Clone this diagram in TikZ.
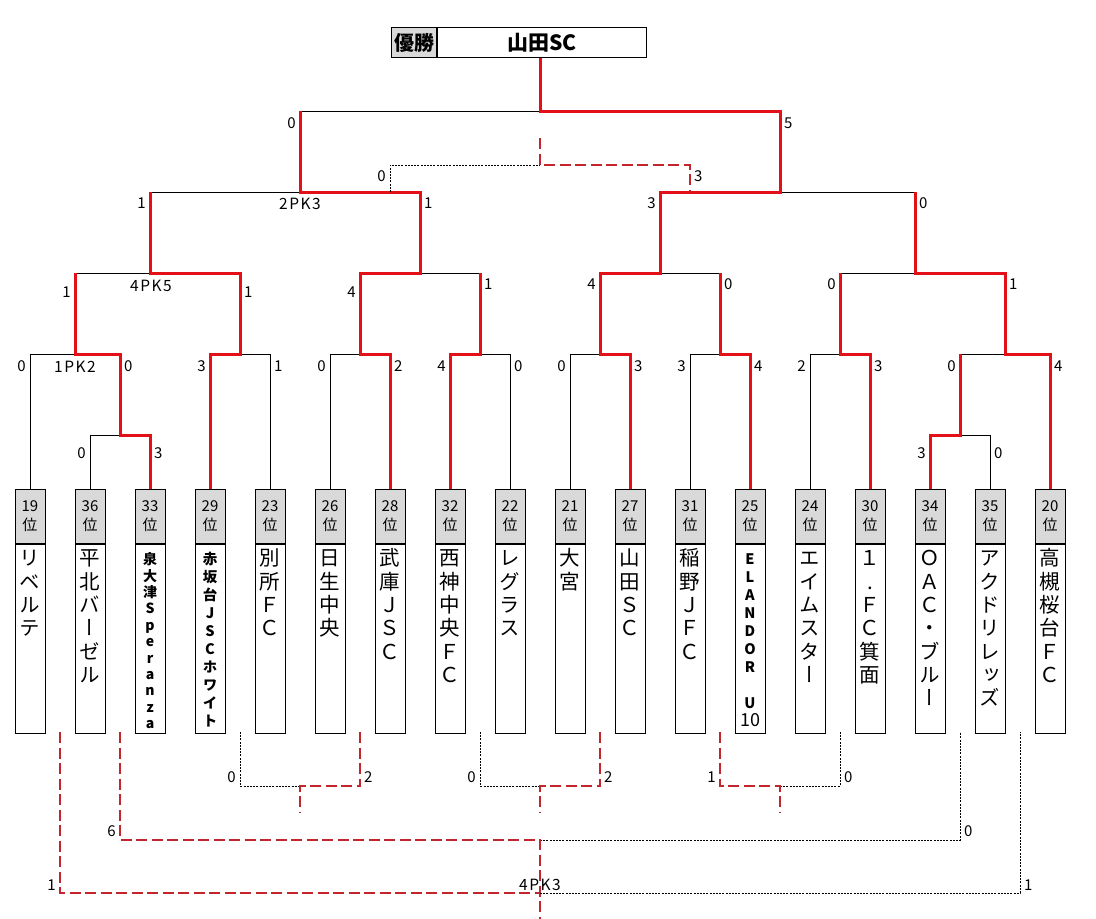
\documentclass[tikz,border=0pt]{standalone}
\usepackage{fontspec}
\setmainfont{Noto Sans CJK JP}
\newfontfamily\vf{Noto Sans CJK JP}[RawFeature=+vert]
\usetikzlibrary{calc}
\definecolor{redc}{RGB}{228,16,24}
\definecolor{dredc}{RGB}{192,38,44}
\definecolor{hgray}{RGB}{217,217,217}
\tikzset{
  hdr/.style={anchor=north, draw, fill=hgray, line width=1pt, minimum width=30pt, minimum height=54pt, inner sep=0pt, align=center, font=\fontsize{15}{19}\selectfont},
  bodybox/.style={anchor=north, draw, line width=1pt, minimum width=30pt, minimum height=189pt, inner sep=0pt},
  nmn/.style={anchor=north, inner sep=0pt, align=center, font=\vf\fontsize{20.5}{23.3}\selectfont, yshift=-2.6pt},
  nms/.style={anchor=north, inner sep=0pt, align=center, font=\vf\bfseries\fontsize{14}{16.4}\selectfont, yshift=-1.5pt},
  nmt/.style={anchor=north, inner sep=0pt, align=center, font=\vf\bfseries\fontsize{14.5}{17.9}\selectfont, yshift=-1.7pt},
  winline/.style={draw=redc, line width=3pt},
  loseline/.style={draw=black, line width=1pt},
  windash/.style={draw=dredc, line width=2.6pt, dash pattern=on 11pt off 4.5pt},
  losedot/.style={draw=black, line width=0.9pt, dash pattern=on 2pt off 1.2pt},
  sc/.style={inner sep=0pt, font=\fontsize{15}{15}\selectfont},
  pk/.style={inner sep=0pt, font=\fontsize{15.5}{15}\selectfont\addfontfeature{LetterSpace=10}},
}
\newcommand\Ls[3]{\node[sc,anchor=east] (sl-#1-#2) at (#1-4,#2) {#3};}
\newcommand\Rs[3]{\node[sc,anchor=west] (sr-#1-#2) at (#1+4,#2) {#3};}
\begin{document}
\begin{tikzpicture}[x=1pt,y=-1pt]
\useasboundingbox (0,0) rectangle (1096,919);
\fill[white] (0,0) rectangle (1096,919);

% champion box
\node[draw, fill=hgray, line width=1pt, minimum width=45pt, minimum height=30pt, anchor=north west, inner sep=0pt, font=\bfseries\fontsize{20}{20}\selectfont] (yu) at (391,27) {優勝};
\node[draw, line width=1pt, minimum width=209pt, minimum height=30pt, anchor=north west, inner sep=0pt, font=\bfseries\fontsize{21}{21}\selectfont] (champ) at (yu.north east) {山田SC};

% team boxes
\foreach \ii/\rk/\nm/\st in {
 0/19/{リ\\ベ\\ル\\テ}/n,
 1/36/{平\\北\\バ\\ー\\ゼ\\ル}/n,
 2/33/{泉\\大\\津\\S\\p\\e\\r\\a\\n\\z\\a}/s,
 3/29/{赤\\坂\\台\\J\\S\\C\\ホ\\ワ\\イ\\ト}/t,
 4/23/{別\\所\\Ｆ\\Ｃ}/n,
 5/26/{日\\生\\中\\央}/n,
 6/28/{武\\庫\\Ｊ\\Ｓ\\Ｃ}/n,
 7/32/{西\\神\\中\\央\\Ｆ\\Ｃ}/n,
 8/22/{レ\\グ\\ラ\\ス}/n,
 9/21/{大\\宮}/n,
 10/27/{山\\田\\Ｓ\\Ｃ}/n,
 11/31/{稲\\野\\Ｊ\\Ｆ\\Ｃ}/n,
 12/25/{E\\L\\A\\N\\D\\O\\R\\\mbox{}\\U\\{\mdseries\fontsize{18}{18}\selectfont 10}}/t,
 13/24/{エ\\イ\\ム\\ス\\タ\\ー}/n,
 14/30/{１\\.\\Ｆ\\Ｃ\\箕\\面}/n,
 15/34/{Ｏ\\Ａ\\Ｃ\\・\\ブ\\ル\\ー}/n,
 16/35/{ア\\ク\\ド\\リ\\レ\\ッ\\ズ}/n,
 17/20/{高\\槻\\桜\\台\\Ｆ\\Ｃ}/n}{
  \node[hdr] (h\ii) at ({30+60*\ii},489) {\rk\\位};
  \node[bodybox] (b\ii) at (h\ii.south) {};
  \node[nm\st] (n\ii) at (b\ii.north) {\rule{0pt}{19pt}\nm};
}

% junction coordinates
\coordinate (p1) at (120,435); \coordinate (p2) at (960,435);
\coordinate (m1) at (75,354);  \coordinate (m2) at (240,354);
\coordinate (m3) at (360,354); \coordinate (m4) at (480,354);
\coordinate (m5) at (600,354); \coordinate (m6) at (720,354);
\coordinate (m7) at (840,354); \coordinate (m8) at (1005,354);
\coordinate (q1) at (150,273); \coordinate (q2) at (420,273);
\coordinate (q3) at (660,273); \coordinate (q4) at (915,273);
\coordinate (s1) at (300,192); \coordinate (s2) at (780,192);
\coordinate (f) at (540,111);
\coordinate (tl) at (390,192); \coordinate (tr) at (690,192);
\coordinate (t3) at (540,165); \coordinate (t3top) at (540,138);

% losing (black) lines
\draw[loseline] (h1.north) |- (p1);
\draw[loseline] (h0.north) |- (m1);
\draw[loseline] (m1 |- q1) -- (q1);
\draw[loseline] (h4.north) |- (m2);
\draw[loseline] (q1 |- s1) -- (s1);
\draw[loseline] (h5.north) |- (m3);
\draw[loseline] (m4) -| (h8.north);
\draw[loseline] (q2) -- (m4 |- q2);
\draw[loseline] (s1 |- f) -- (f);
\draw[loseline] (h9.north) |- (m5);
\draw[loseline] (h11.north) |- (m6);
\draw[loseline] (q3) -- (m6 |- q3);
\draw[loseline] (h13.north) |- (m7);
\draw[loseline] (m7 |- q4) -- (q4);
\draw[loseline] (p2) -| (h16.north);
\draw[loseline] (p2 |- m8) -- (m8);
\draw[loseline] (s2) -- (q4 |- s2);

% winning (red) lines
\draw[winline] (h2.north) |- (p1) |- (m1) -- (m1 |- q1);
\draw[winline] (h3.north) |- (m2) |- (q1) -- (q1 |- s1);
\draw[winline] (h6.north) |- (m3) |- (q2) |- (s1) -- (s1 |- f);
\draw[winline] (h7.north) |- (m4) -- (m4 |- q2);
\draw[winline] (h10.north) |- (m5) |- (q3) |- (s2) |- (f) -- (f |- champ.south);
\draw[winline] (h12.north) |- (m6) -- (m6 |- q3);
\draw[winline] (h14.north) |- (m7) -- (m7 |- q4);
\draw[winline] (h15.north) |- (p2) -- (p2 |- m8);
\draw[winline] (h17.north) |- (m8) |- (q4) -- (q4 |- s2);

% third place
\draw[losedot] (tl) |- (t3);
\draw[windash] (t3top) -- (t3) -| (tr);

% lower placement matches
\coordinate (bA1) at (240,732); \coordinate (bA2) at (360,732);
\coordinate (jA) at (300,786);  \coordinate (oA) at (300,812);
\coordinate (bB1) at (480,732); \coordinate (bB2) at (600,732);
\coordinate (jB) at (540,786);  \coordinate (oB) at (540,812);
\coordinate (bC1) at (720,732); \coordinate (bC2) at (840,732);
\coordinate (jC) at (780,786);  \coordinate (oC) at (780,812);
\coordinate (bD1) at (120,732); \coordinate (bD2) at (960,732);
\coordinate (jD) at (540,840);
\coordinate (bE1) at (60,732);  \coordinate (bE2) at (1020,732);
\coordinate (jE) at (540,893);  \coordinate (oE) at (540,919);

\draw[losedot] (bA1) |- (jA);
\draw[windash] (bA2) |- (jA) -- (oA);
\draw[losedot] (bB1) |- (jB);
\draw[windash] (bB2) |- (jB) -- (oB);
\draw[losedot] (jC) -| (bC2);
\draw[windash] (bC1) |- (jC) -- (oC);
\draw[losedot] (jD) -| (bD2);
\draw[windash] (bD1) |- (jD) -- (oE);
\draw[losedot] (jE) -| (bE2);
\draw[windash] (bE1) |- (jE);

% scores
\Ls{300}{123}{0} \Rs{780}{123}{5}
\Ls{390}{176}{0} \Rs{690}{176}{3}
\Ls{150}{203}{1} \Rs{420}{203}{1}
\Ls{660}{203}{3} \Rs{915}{203}{0}
\Ls{75}{292}{1}  \Rs{240}{292}{1}
\Ls{360}{292}{4} \Rs{480}{284}{1}
\Ls{600}{284}{4} \Rs{720}{284}{0}
\Ls{840}{284}{0} \Rs{1005}{284}{1}
\Ls{30}{366}{0}  \Rs{120}{366}{0}
\Ls{210}{366}{3} \Rs{270}{366}{1}
\Ls{330}{366}{0} \Rs{390}{366}{2}
\Ls{450}{366}{4} \Rs{510}{366}{0}
\Ls{570}{366}{0} \Rs{630}{366}{3}
\Ls{690}{366}{3} \Rs{750}{366}{4}
\Ls{810}{366}{2} \Rs{870}{366}{3}
\Ls{960}{366}{0} \Rs{1050}{366}{4}
\Ls{90}{453}{0}  \Rs{150}{453}{3}
\Ls{930}{453}{3} \Rs{990}{453}{0}
\Ls{240}{777}{0} \Rs{360}{777}{2}
\Ls{480}{777}{0} \Rs{600}{777}{2}
\Ls{720}{777}{1} \Rs{840}{777}{0}
\Ls{120}{831}{6} \Rs{960}{831}{0}
\Ls{60}{885}{1}  \Rs{1020}{885}{1}

% PK labels
\node[pk] (pk1) at (300,204) {2PK3};
\node[pk] (pk2) at (151,286) {4PK5};
\node[pk] (pk3) at (75,367) {1PK2};
\node[pk] (pk4) at (540,885) {4PK3};
\end{tikzpicture}
\end{document}
